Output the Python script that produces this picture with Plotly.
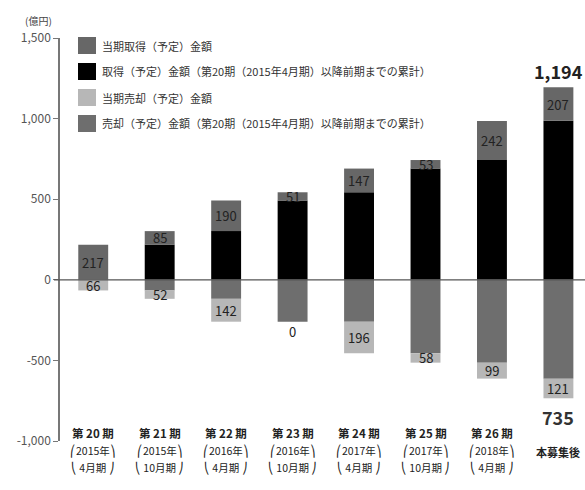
import plotly.graph_objects as go

categories = ["第20期", "第21期", "第22期", "第23期", "第24期", "第25期", "第26期", "本募集後"]
cat_main = ["第 20 期", "第 21 期", "第 22 期", "第 23 期", "第 24 期", "第 25 期", "第 26 期", "本募集後"]
cat_year = ["2015年", "2015年", "2016年", "2016年", "2017年", "2017年", "2018年", ""]
cat_month = ["4月期", "10月期", "4月期", "10月期", "4月期", "10月期", "4月期", ""]

acq_current = [217, 85, 190, 51, 147, 53, 242, 207]
acq_cumulative = [0, 217, 302, 492, 543, 690, 743, 987]
sale_current = [66, 52, 142, 0, 196, 58, 99, 121]
sale_cumulative = [0, 66, 118, 260, 260, 456, 514, 614]

total_acq_label = "1,194"
total_sale_label = "735"

tick_vals = [1500, 1000, 500, 0, -500, -1000]
tick_text = ["1,500", "1,000", "500", "0", "-500", "-1,000"]

legend_names = [
    "当期取得（予定）金額",
    "取得（予定）金額（第20期（2015年4月期）以降前期までの累計）",
    "当期売却（予定）金額",
    "売却（予定）金額（第20期（2015年4月期）以降前期までの累計）",
]

C_ACQ = "#676767"
C_ACQ_CUM = "#000000"
C_SALE = "#b7b7b7"
C_SALE_CUM = "#6e6e6e"
FONT = "Noto Sans CJK JP"

PLOT_TOP, PLOT_BOTTOM, PLOT_LEFT, PLOT_W = 38, 441, 60, 525
PLOT_H = PLOT_BOTTOM - PLOT_TOP


def py(px):
    return (PLOT_BOTTOM - px) / PLOT_H


def pxx(px):
    return (px - PLOT_LEFT) / PLOT_W


fig = go.Figure()
fig.add_bar(x=categories, y=acq_cumulative, marker_color=C_ACQ_CUM, name=legend_names[1])
fig.add_bar(x=categories, y=acq_current, marker_color=C_ACQ, name=legend_names[0])
fig.add_bar(x=categories, y=[-v for v in sale_cumulative], marker_color=C_SALE_CUM, name=legend_names[3])
fig.add_bar(x=categories, y=[-v for v in sale_current], marker_color=C_SALE, name=legend_names[2])
fig.update_traces(marker_line_width=0, showlegend=False)

ann = []
for i, c in enumerate(categories):
    ann.append(dict(x=c, y=acq_cumulative[i] + acq_current[i] / 2, text=str(acq_current[i]),
                    showarrow=False, font=dict(size=13, color="#222", family=FONT)))
    if sale_current[i] > 0:
        yy = -sale_cumulative[i] - sale_current[i] / 2
    else:
        yy = -sale_cumulative[i] - 60
    ann.append(dict(x=c, y=yy, text=str(sale_current[i]),
                    showarrow=False, font=dict(size=13, color="#222", family=FONT)))
    if cat_year[i]:
        ann.append(dict(x=c, y=py(433), yref="paper", yanchor="middle",
                        text="<b>" + cat_main[i] + "</b>", showarrow=False,
                        font=dict(size=11.5, color="#222", family=FONT)))
        ann.append(dict(x=c, y=py(450), yref="paper", yanchor="middle",
                        text="⎛" + cat_year[i] + "⎞", showarrow=False,
                        font=dict(size=10.5, color="#222", family=FONT)))
        ann.append(dict(x=c, y=py(467), yref="paper", yanchor="middle",
                        text="⎝ " + cat_month[i] + " ⎠", showarrow=False,
                        font=dict(size=10.5, color="#222", family=FONT)))
    else:
        ann.append(dict(x=c, y=py(452), yref="paper", yanchor="middle",
                        text="<b>" + cat_main[i] + "</b>", showarrow=False,
                        font=dict(size=11, color="#222", family=FONT)))

last = categories[-1]
ann.append(dict(x=last, y=acq_cumulative[-1] + acq_current[-1], yanchor="bottom", yshift=1,
                text="<b>" + total_acq_label + "</b>", showarrow=False,
                font=dict(size=18, color="#222", family=FONT)))
ann.append(dict(x=last, y=-(sale_cumulative[-1] + sale_current[-1]), yanchor="top", yshift=-4,
                text="<b>" + total_sale_label + "</b>", showarrow=False,
                font=dict(size=18, color="#333", family=FONT)))
ann.append(dict(x=-0.07, xref="paper", y=1.0, yref="paper", yanchor="bottom", xanchor="left",
                yshift=8, text="(億円)", showarrow=False,
                font=dict(size=10, color="#444", family=FONT)))

legend_colors = [C_ACQ, C_ACQ_CUM, C_SALE, C_SALE_CUM]
shapes = []
for k, (nm, col) in enumerate(zip(legend_names, legend_colors)):
    yc = 45.5 + k * 26
    shapes.append(dict(type="rect", xref="paper", yref="paper",
                       x0=pxx(78), x1=pxx(96), y0=py(yc + 8.5), y1=py(yc - 8.5),
                       fillcolor=col, line_width=0))
    ann.append(dict(x=pxx(100), xref="paper", y=py(yc), yref="paper",
                    xanchor="left", yanchor="middle", text=nm, showarrow=False,
                    font=dict(size=11, color="#333", family=FONT)))

shapes.append(dict(type="line", xref="paper", yref="y", x0=-6 / PLOT_W, x1=1, y0=0, y1=0,
                   line=dict(color="#555", width=1.2)))

fig.update_layout(
    width=585, height=490,
    margin=dict(l=PLOT_LEFT, r=0, t=PLOT_TOP, b=490 - PLOT_BOTTOM),
    barmode="relative", bargap=0.55,
    plot_bgcolor="white", paper_bgcolor="white",
    annotations=ann, shapes=shapes,
    font=dict(family=FONT),
    xaxis=dict(range=[-0.5, 7.4], showticklabels=False, showline=False, ticks="",
               showgrid=False, zeroline=False),
    yaxis=dict(range=[-1000, 1500], tickvals=tick_vals, ticktext=tick_text,
               showline=True, linecolor="#777", linewidth=1.5, ticks="outside", ticklen=5,
               tickcolor="#777", showgrid=False, zeroline=False,
               tickfont=dict(size=12, color="#555", family=FONT)),
)

fig.write_html("out.html")
